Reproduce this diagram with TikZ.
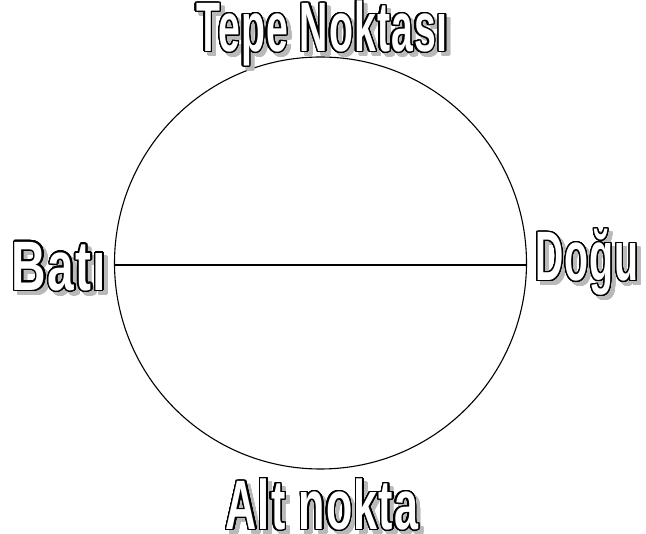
\documentclass[tikz,border=0pt]{standalone}
\usepackage{fontspec}
\usepackage{xcolor}
\usepackage{contour}
\usetikzlibrary{positioning}
\newfontfamily\dirfont[FakeStretch=0.56, LetterSpace=1.5]{Liberation Sans Bold}
\contourlength{1.3pt}
\contournumber{32}
\newcommand\outl[1]{\contour{black}{\textcolor{white}{#1}}}
\newcommand\shad[1]{\contour{gray!55}{\textcolor{gray!55}{#1}}}

\begin{document}
\begin{tikzpicture}[x=1pt, y=-1pt, every node/.style={inner sep=0pt},
  dir/.style={font=\dirfont\fontsize{70}{70}\selectfont, anchor=center},
  shadow/.style={dir, xshift=4pt, yshift=-4pt},
  wide/.style={transform shape, xscale=#1}]
\useasboundingbox (0,0) rectangle (646,534);
\coordinate (C) at (320.5,263);
\draw[line width=1.1pt] (C) circle[radius=206pt];
\coordinate (W) at (114.5,265);
\coordinate (E) at (526.5,265);
\draw[line width=1.1pt] (W) -- (E);
% labels
\node[shadow] (Ts) at (322,34) {\shad{Tepe Noktası}};
\node[dir] (T) at (322,34) {\outl{Tepe Noktası}};
\node[shadow, wide=1.22] (Ws) at (59,267) {\shad{Batı}};
\node[dir, wide=1.22] (Wl) at (59,267) {\outl{Batı}};
\node[shadow] (Es) at (587,263) {\shad{Doğu}};
\node[dir] (El) at (587,263) {\outl{Doğu}};
\node[shadow, wide=1.1] (Bs) at (322,505) {\shad{Alt nokta}};
\node[dir, wide=1.1] (B) at (322,505) {\outl{Alt nokta}};
\end{tikzpicture}
\end{document}
